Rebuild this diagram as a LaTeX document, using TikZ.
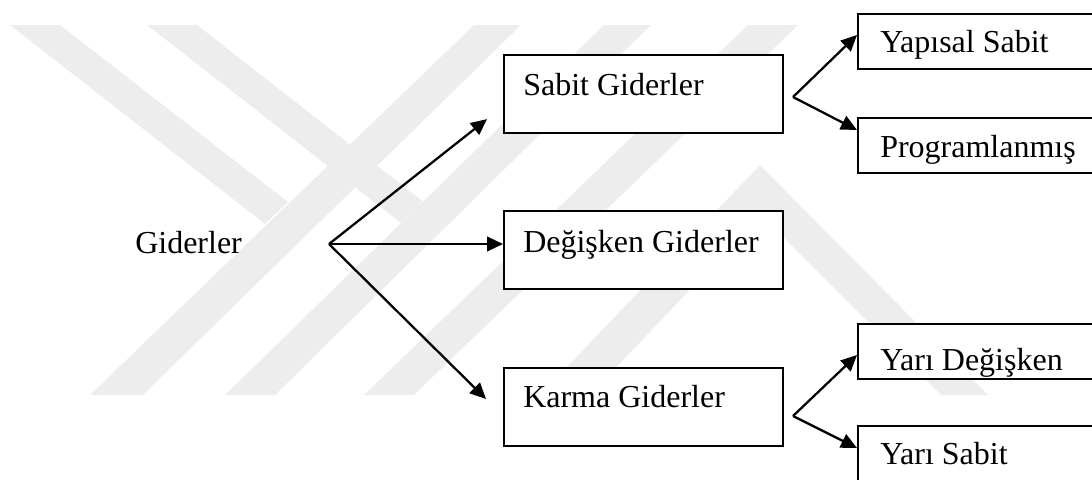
\documentclass[tikz,border=0pt]{standalone}
\usepackage{fontspec}
\setmainfont{Liberation Serif}
\usetikzlibrary{arrows.meta,calc}
\definecolor{wmgray}{gray}{0.93}
\begin{document}
\begin{tikzpicture}[x=0.75pt,y=-0.75pt,
  box/.style={draw=black, fill=white, line width=1.6pt, rectangle, anchor=north west, inner sep=0pt},
  bigbox/.style={box, minimum width=209.25pt, minimum height=58.5pt},
  smallbox/.style={box, minimum width=200pt, minimum height=41.25pt},
  lbl/.style={anchor=base west, inner sep=0pt, font=\fontsize{24}{28}\selectfont},
  link/.style={line width=1.7pt, -{Triangle[length=12pt,width=11pt]}},
  wm/.style={fill=wmgray, draw=none}]
\useasboundingbox (0,0) rectangle (1092,479);
\clip (0,0) rectangle (1092,479);

% faint background logo stripes
\fill[wm] (10,25) -- (60,25) -- (288,202) -- (265,224) -- cycle;
\fill[wm] (90,395) -- (143,395) -- (521,25) -- (474,25) -- cycle;
\fill[wm] (147,25) -- (197,25) -- (423,201.5) -- (401,223) -- cycle;
\fill[wm] (225,395) -- (275,395) -- (651,25) -- (604,25) -- cycle;
\fill[wm] (364,395) -- (414,395) -- (798,25) -- (748,25) -- cycle;
\fill[wm] (540,395) -- (760,165) -- (988,395) -- (941,395) -- (761,215) -- (590,395) -- cycle;

% root label
\node[lbl] (giderler) at (135,253) {Giderler};
\coordinate (gfork) at (329,244);

% first level boxes
\node[bigbox] (sabit) at (503,54) {};
\node[lbl] (sabitT) at (523,95) {Sabit Giderler};
\node[bigbox] (degisken) at (503,210) {};
\node[lbl] (degiskenT) at (523,252) {Değişken Giderler};
\node[bigbox] (karma) at (503,367) {};
\node[lbl] (karmaT) at (523,407) {Karma Giderler};

% second level boxes (run past the right and bottom edges)
\node[smallbox] (yapisal) at (857,13) {};
\node[lbl] (yapisalT) at (880,52) {Yapısal Sabit};
\node[smallbox] (program) at (857,117) {};
\node[lbl] (programT) at (880,157) {Programlanmış};
\node[smallbox] (yaridegisken) at (857,323) {};
\node[lbl] (yaridegiskenT) at (880,370) {Yarı Değişken};
\node[smallbox] (yarisabit) at (857,425) {};
\node[lbl] (yarisabitT) at (880,464) {Yarı Sabit};

% fork points and arrow ends
\coordinate (sfork) at (793,97);
\coordinate (kfork) at (793,416);
\coordinate (toSabit) at ($(sabit.south west)+(-16,-15)$);
\coordinate (toDegisken) at (503,244);
\coordinate (toKarma) at ($(karma.north west)+(-17,32)$);
\coordinate (toYapisal) at (857,35);
\coordinate (toProgram) at (857,130);
\coordinate (toYariDegisken) at (857,355);
\coordinate (toYariSabit) at (857,448);

% connectors
\draw[link] (gfork) -- (toSabit);
\draw[link] (gfork) -- (toDegisken);
\draw[link] (gfork) -- (toKarma);
\draw[link] (sfork) -- (toYapisal);
\draw[link] (sfork) -- (toProgram);
\draw[link] (kfork) -- (toYariDegisken);
\draw[link] (kfork) -- (toYariSabit);
\end{tikzpicture}
\end{document}
